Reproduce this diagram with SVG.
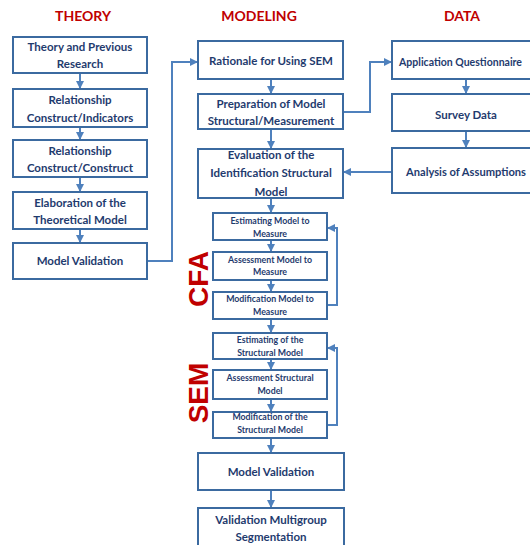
<svg xmlns="http://www.w3.org/2000/svg" width="530" height="545" viewBox="0 0 530 545">
<style>
.bg{fill:#ffffff}
.box{fill:#ffffff;stroke:#3b6aa0;stroke-width:2}
.t{font-family:Lato,"Liberation Sans",Arial,sans-serif;font-weight:bold;fill:#1f3b6e;text-anchor:middle;font-size:11.5px}
.s{font-size:8.8px}
.h{font-family:Lato,"Liberation Sans",Arial,sans-serif;font-weight:bold;fill:#c00000;text-anchor:middle;font-size:14px}
.big{font-family:"Liberation Sans",Arial,sans-serif;font-weight:bold;fill:#c00000;text-anchor:middle;font-size:28px}
.c{fill:none;stroke:#4f81bd;stroke-width:2;marker-end:url(#ah)}
</style>
<defs>
<marker id="ah" viewBox="0 0 10 10" refX="10" refY="5" markerWidth="8" markerHeight="8" markerUnits="userSpaceOnUse" orient="auto">
<path d="M0,0 L10,5 L0,10 z" fill="#4f81bd"/>
</marker>
</defs>
<rect class="bg" x="0" y="0" width="530" height="545"/>
<g id="headings">
<text class="h" x="83" y="21">THEORY</text>
<text class="h" x="259" y="21">MODELING</text>
<text class="h" x="462" y="21">DATA</text>
</g>
<g id="labels">
<text class="big" transform="translate(208,279) rotate(-90)">CFA</text>
<text class="big" transform="translate(208,393) rotate(-90)">SEM</text>
</g>
<g id="connectors">
<path class="c" d="M80,73 V89"/>
<path class="c" d="M80,127 V140"/>
<path class="c" d="M80,177 V192"/>
<path class="c" d="M80,229 V243"/>
<path class="c" d="M147,261 H172 V62 H198"/>
<path class="c" d="M271,79 V94"/>
<path class="c" d="M271,129 V149"/>
<path class="c" d="M343,112 H370 V62 H392"/>
<path class="c" d="M466,79 V94"/>
<path class="c" d="M466,131 V148"/>
<path class="c" d="M392,172 H343"/>
<path class="c" d="M271,198 V213"/>
<path class="c" d="M271,240 V252"/>
<path class="c" d="M271,280 V292"/>
<path class="c" d="M327,305 H337 V228 H327"/>
<path class="c" d="M271,319 V333"/>
<path class="c" d="M271,359 V370"/>
<path class="c" d="M271,399 V412"/>
<path class="c" d="M327,425 H337 V348 H327"/>
<path class="c" d="M271,438 V453"/>
<path class="c" d="M271,490 V508"/>
</g>
<g id="theory1"><rect class="box" x="13" y="37" width="134" height="36"/><text class="t" x="80" y="51">Theory and Previous</text><text class="t" x="80" y="68">Research</text></g>
<g id="theory2"><rect class="box" x="13" y="89" width="134" height="38"/><text class="t" x="80" y="104">Relationship</text><text class="t" x="80" y="122">Construct/Indicators</text></g>
<g id="theory3"><rect class="box" x="13" y="140" width="134" height="37"/><text class="t" x="80" y="155">Relationship</text><text class="t" x="80" y="172">Construct/Construct</text></g>
<g id="theory4"><rect class="box" x="13" y="192" width="134" height="37"/><text class="t" x="80" y="207">Elaboration of the</text><text class="t" x="80" y="224">Theoretical Model</text></g>
<g id="theory5"><rect class="box" x="13" y="243" width="134" height="36"/><text class="t" x="80" y="265">Model Validation</text></g>
<g id="rationale"><rect class="box" x="198" y="41" width="145" height="38"/><text class="t" x="271" y="65">Rationale for Using SEM</text></g>
<g id="preparation"><rect class="box" x="198" y="94" width="145" height="35"/><text class="t" x="271" y="108">Preparation of Model</text><text class="t" x="271" y="125">Structural/Measurement</text></g>
<g id="evaluation"><rect class="box" x="198" y="149" width="145" height="49"/><text class="t" x="271" y="159">Evaluation of the</text><text class="t" x="271" y="177">Identification Structural</text><text class="t" x="271" y="196">Model</text></g>
<g id="application"><rect class="box" x="392" y="41" width="150" height="38"/><text class="t" x="399" y="66" style="text-anchor:start" textLength="123" lengthAdjust="spacingAndGlyphs">Application Questionnaire</text></g>
<g id="survey"><rect class="box" x="392" y="94" width="150" height="37"/><text class="t" x="466" y="119">Survey Data</text></g>
<g id="analysis"><rect class="box" x="392" y="148" width="150" height="45"/><text class="t" x="466" y="176" textLength="120" lengthAdjust="spacingAndGlyphs">Analysis of Assumptions</text></g>
<g id="cfa1"><rect class="box" x="213" y="213" width="114" height="27"/><text class="t s" x="270" y="224">Estimating Model to</text><text class="t s" x="270" y="237">Measure</text></g>
<g id="cfa2"><rect class="box" x="213" y="252" width="114" height="28"/><text class="t s" x="270" y="263">Assessment Model to</text><text class="t s" x="270" y="275">Measure</text></g>
<g id="cfa3"><rect class="box" x="213" y="292" width="114" height="27"/><text class="t s" x="270" y="302">Modification Model to</text><text class="t s" x="270" y="315">Measure</text></g>
<g id="sem1"><rect class="box" x="213" y="333" width="114" height="26"/><text class="t s" x="270" y="343">Estimating of the</text><text class="t s" x="270" y="356">Structural Model</text></g>
<g id="sem2"><rect class="box" x="213" y="370" width="114" height="29"/><text class="t s" x="270" y="381">Assessment Structural</text><text class="t s" x="270" y="394">Model</text></g>
<g id="sem3"><rect class="box" x="213" y="412" width="114" height="26"/><text class="t s" x="270" y="420">Modification of the</text><text class="t s" x="270" y="433">Structural Model</text></g>
<g id="validation"><rect class="box" x="198" y="453" width="146" height="37"/><text class="t" x="271" y="476">Model Validation</text></g>
<g id="multigroup"><rect class="box" x="198" y="508" width="146" height="45"/><text class="t" x="271" y="524">Validation Multigroup</text><text class="t" x="271" y="541">Segmentation</text></g>
</svg>
